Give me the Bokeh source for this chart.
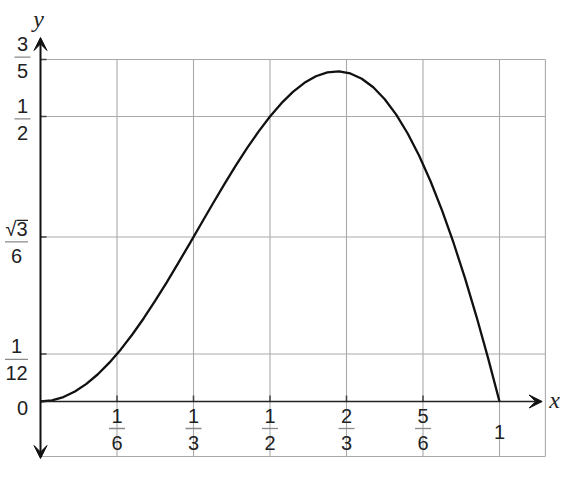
import math
from bokeh.plotting import figure
from bokeh.models import Range1d, Arrow, VeeHead
from bokeh.core.properties import value
from bokeh.embed import file_html
from bokeh.resources import INLINE

# ---- data ----
curve_x = [0, 0.025, 0.05, 0.075, 0.1, 0.125, 0.15, 0.175, 0.2, 0.225, 0.25,
           0.275, 0.3, 0.325, 0.35, 0.375, 0.4, 0.425, 0.45, 0.475, 0.5,
           0.525, 0.55, 0.575, 0.6, 0.625, 0.65, 0.675, 0.7, 0.725, 0.75,
           0.775, 0.8, 0.825, 0.85, 0.875, 0.9, 0.925, 0.95, 0.975, 1.0]
curve_y = [0, 0.0020, 0.0078, 0.0175, 0.0309, 0.0478, 0.0681, 0.0914, 0.1176,
           0.1461, 0.1768, 0.2091, 0.2427, 0.2771, 0.3119, 0.3465, 0.3804,
           0.4133, 0.4445, 0.4735, 0.5000, 0.5234, 0.5432, 0.5591, 0.5706,
           0.5774, 0.5792, 0.5755, 0.5663, 0.5513, 0.5303, 0.5033, 0.4702,
           0.4311, 0.3859, 0.3349, 0.2781, 0.2159, 0.1486, 0.0765, 0.0]

xtick_vals = [1/6, 1/3, 1/2, 2/3, 5/6]
xtick_num = ["1", "1", "1", "2", "5"]
xtick_den = ["6", "3", "2", "3", "6"]
x_one_val = 1.0
x_one_label = "1"

ytick_vals = [3/5, 1/2, math.sqrt(3)/6, 1/12]
ytick_num = ["3", "1", "√3", "1"]
ytick_den = ["5", "2", "6", "12"]
y_zero_label = "0"

grid_x_max = 1.1
grid_y_min = -0.0965
axis_x_end = 1.093
axis_y_min = -0.1
axis_y_max = 0.6386

# ---- layout (pixels) ----
W, H = 563, 470
PX_X, PX_Y = 459.0, 570.0
X0, Y0 = 40.0, 401.0

def dx(px):
    return px / PX_X

def dy(px):
    return px / PX_Y

p = figure(width=W, height=H, output_backend="svg", toolbar_location=None,
           x_axis_type=None, y_axis_type=None, min_border=0,
           x_range=Range1d(-X0 / PX_X, (W - X0) / PX_X),
           y_range=Range1d(-(H - Y0) / PX_Y, Y0 / PX_Y))
p.outline_line_color = None
p.background_fill_color = "white"
p.border_fill_color = "white"

GRID = "#a9a9a9"
FONT = value("Liberation Sans")
FS = value("20px")
TXT = "#222222"
BAR = "#8a8a8a"

# grid
vx = xtick_vals + [x_one_val, grid_x_max]
p.segment(x0=vx, y0=[grid_y_min] * len(vx), x1=vx, y1=[ytick_vals[0]] * len(vx),
          line_color=GRID, line_width=1.1)
hy = ytick_vals + [grid_y_min]
p.segment(x0=[0] * len(hy), y0=hy, x1=[grid_x_max] * len(hy), y1=hy,
          line_color=GRID, line_width=1.1)

# tick marks
p.segment(x0=[0] * len(ytick_vals), y0=ytick_vals, x1=[dx(6)] * len(ytick_vals), y1=ytick_vals,
          line_color="#444444", line_width=1.5)
xt = xtick_vals
p.segment(x0=xt, y0=[0] * len(xt), x1=xt, y1=[dy(6)] * len(xt),
          line_color="#444444", line_width=1.5)

# axes with arrows
p.add_layout(Arrow(x_start=0, y_start=0, x_end=axis_x_end, y_end=0,
                   line_color="#222222", line_width=1.6,
                   end=VeeHead(size=13, fill_color="#111111", line_color="#111111")))
p.add_layout(Arrow(x_start=0, y_start=axis_y_min, x_end=0, y_end=axis_y_max,
                   line_color="#111111", line_width=2,
                   start=VeeHead(size=13, fill_color="#111111", line_color="#111111"),
                   end=VeeHead(size=13, fill_color="#111111", line_color="#111111")))

# curve
p.line(curve_x, curve_y, line_color="#111111", line_width=2.3)

# x fraction labels
bar_y = -dy(27)
p.text(x=xtick_vals, y=[bar_y + dy(13)] * len(xtick_vals), text=xtick_num,
       text_font=FONT, text_font_size=FS, text_color=TXT,
       text_align="center", text_baseline="middle")
p.text(x=xtick_vals, y=[bar_y - dy(14)] * len(xtick_vals), text=xtick_den,
       text_font=FONT, text_font_size=FS, text_color=TXT,
       text_align="center", text_baseline="middle")
p.rect(x=xtick_vals, y=[bar_y] * len(xtick_vals), width=16, height=1.3,
       width_units="screen", height_units="screen", fill_color=BAR, line_color=None)
p.text(x=[x_one_val], y=[-dy(30.5)], text=[x_one_label],
       text_font=FONT, text_font_size=FS, text_color=TXT,
       text_align="center", text_baseline="middle")

# y fraction labels
y_bar_nudge = [-2.3, 2.3, 5.0, 5.3]
bar_w = [16 if max(len(n), len(d)) == 1 else 23 for n, d in zip(ytick_num, ytick_den)]
ycx = [-dx(18 if w == 16 else 24) for w in bar_w]
ybar = [v - dy(n) for v, n in zip(ytick_vals, y_bar_nudge)]
ynum_y = [b + dy(13) for b in ybar]
p.text(x=ycx, y=ynum_y, text=ytick_num,
       text_font=FONT, text_font_size=FS, text_color=TXT,
       text_align="center", text_baseline="middle")
p.text(x=ycx, y=[b - dy(14) for b in ybar], text=ytick_den,
       text_font=FONT, text_font_size=FS, text_color=TXT,
       text_align="center", text_baseline="middle")
p.rect(x=ycx, y=ybar, width=bar_w, height=1.3,
       width_units="screen", height_units="screen", fill_color=BAR, line_color=None)
# overline of the square root
ri = ytick_num.index("√3")
p.segment(x0=[ycx[ri] + dx(0)], y0=[ynum_y[ri] + dy(8.5)],
          x1=[ycx[ri] + dx(11.5)], y1=[ynum_y[ri] + dy(8.5)],
          line_color=TXT, line_width=1.2)
p.text(x=[-dx(18)], y=[-dy(6)], text=[y_zero_label],
       text_font=FONT, text_font_size=FS, text_color=TXT,
       text_align="center", text_baseline="middle")

# axis names
p.text(x=[-dx(2)], y=[dy(Y0 - 18)], text=["y"],
       text_font=value("Liberation Serif"), text_font_style="italic",
       text_font_size=value("24px"), text_color=TXT,
       text_align="center", text_baseline="middle")
p.text(x=[dx(514)], y=[dy(2)], text=["x"],
       text_font=value("Liberation Serif"), text_font_style="italic",
       text_font_size=value("24px"), text_color=TXT,
       text_align="center", text_baseline="middle")

open("out.html", "w").write(file_html(p, INLINE))
